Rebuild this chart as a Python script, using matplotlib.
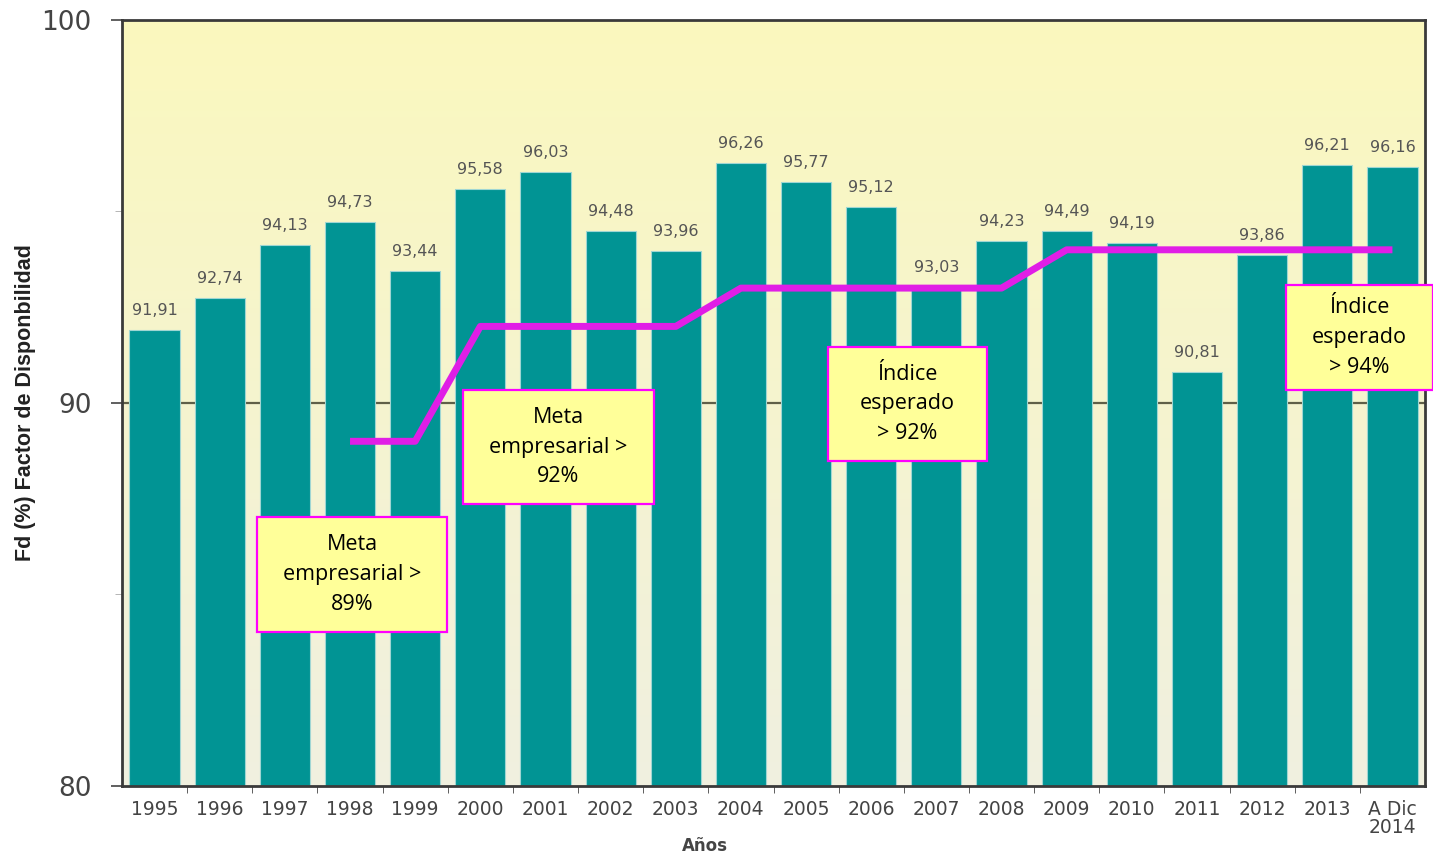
import matplotlib
matplotlib.use("Agg")
import matplotlib.pyplot as plt
import numpy as np
from matplotlib.patches import Rectangle

## Datos
anios = ["1995", "1996", "1997", "1998", "1999", "2000", "2001", "2002", "2003",
         "2004", "2005", "2006", "2007", "2008", "2009", "2010", "2011", "2012",
         "2013", "A Dic\n2014"]
fd = [91.91, 92.74, 94.13, 94.73, 93.44, 95.58, 96.03, 94.48, 93.96, 96.26,
      95.77, 95.12, 93.03, 94.23, 94.49, 94.19, 90.81, 93.86, 96.21, 96.16]
etiquetas = ["91,91", "92,74", "94,13", "94,73", "93,44", "95,58", "96,03", "94,48",
             "93,96", "96,26", "95,77", "95,12", "93,03", "94,23", "94,49", "94,19",
             "90,81", "93,86", "96,21", "96,16"]

# meta empresarial / indice esperado (desde 1998)
meta_anios = list(range(3, 20))
meta = [89, 89, 92, 92, 92, 92, 93, 93, 93, 93, 93, 94, 94, 94, 94, 94, 94]

cuadros = ["Meta\nempresarial >\n89%", "Meta\nempresarial >\n92%",
           "Índice\nesperado\n> 92%", "Índice\nesperado\n> 94%"]

W, H = 1433, 856
fig = plt.figure(figsize=(W/100, H/100), dpi=100)
ax = fig.add_axes([122/W, 1-786/H, 1303/W, 766/H])

x = np.arange(len(fd))
ax.set_xlim(-0.5, 19.5)
ax.set_ylim(80, 100)

# fondo degradado
grad = np.linspace(0, 1, 256).reshape(-1, 1)
c_top = np.array([251, 248, 190]) / 255
c_bot = np.array([240, 240, 224]) / 255
img = c_bot + (c_top - c_bot) * grad
ax.imshow(img[:, None, :].repeat(2, axis=1), extent=[-0.5, 19.5, 80, 100],
          origin="lower", aspect="auto", zorder=0)

ax.axhline(90, color="#5f5f48", lw=1.6, zorder=1)

ax.bar(x, [v - 80 for v in fd], bottom=80, width=0.77, color="#019494",
       edgecolor="#9fd6d3", linewidth=0.8, zorder=2)

for i, v in enumerate(fd):
    ax.annotate(etiquetas[i], (x[i], v), xytext=(0, 14), textcoords="offset points",
                ha="center", va="center", fontsize=11.5, color="#555555", zorder=3)

ax.plot(meta_anios, meta, color="#e01ee6", lw=5, solid_capstyle="butt",
        zorder=4)

# ejes
ax.set_yticks([80, 90, 100])
ax.set_yticks([85, 95], minor=True)
ax.set_yticklabels(["80", "90", "100"], fontsize=19, color="#444444")
ax.set_xticks(x)
ax.set_xticklabels(anios, fontsize=13.5, color="#444444", linespacing=0.95)
ax.set_xticks(np.arange(0.5, 19.5, 1), minor=True)
ax.tick_params(axis="x", which="major", length=0, pad=10)
ax.tick_params(axis="x", which="minor", length=5, color="#444444")
ax.tick_params(axis="y", which="major", length=8, width=1.2, color="#444444", pad=14)
ax.tick_params(axis="y", which="minor", length=5, color="#aaaaaa")
for s in ax.spines.values():
    s.set_color("#3a3a3a")
    s.set_linewidth(2)
    s.set_zorder(5)

ax.set_ylabel("Fd (%) Factor de Disponbilidad", fontsize=15.5, fontweight="bold",
              family="Liberation Sans", color="#222222")
ax.yaxis.set_label_coords(-0.066, 0.5)
fig.text(705/W, 1-846/H, "Años", ha="center", va="center", fontsize=12,
         color="#444444", fontweight="bold")

# cuadros de texto
cajas = [(257, 517, 447, 632), (463, 390, 654, 504),
         (828, 347, 987, 461), (1286, 285, 1433, 390)]
for (x0, y0, x1, y1), t in zip(cajas, cuadros):
    fig.patches.append(Rectangle((x0/W, 1-y1/H), (x1-x0)/W, (y1-y0)/H,
                                 transform=fig.transFigure, facecolor="#ffff99",
                                 edgecolor="#ff00ff", lw=1.6, zorder=10))
    fig.text((x0+x1)/2/W, 1-(y0+y1)/2/H, t, ha="center", va="center",
             fontsize=15.5, family="Open Sans", linespacing=1.55, zorder=11)

fig.savefig("out.png", dpi=100)
